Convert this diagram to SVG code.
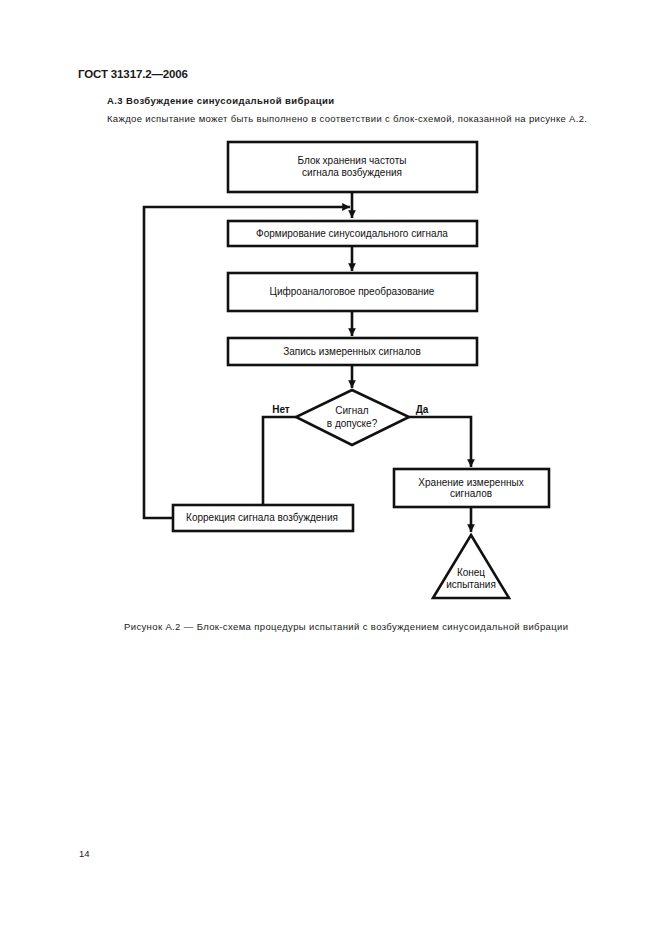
<svg xmlns="http://www.w3.org/2000/svg" width="661" height="936" viewBox="0 0 661 936">
<defs>
<style>
.t{font-family:"Liberation Sans",Arial,sans-serif;fill:#1a1a1a}
.b{fill:#fff;stroke:#111;stroke-width:2.6}
.c{fill:none;stroke:#111;stroke-width:2.6}
.n{font-family:"Liberation Sans",Arial,sans-serif;font-size:10px;fill:#111;text-anchor:middle}
</style>
<marker id="ah" viewBox="0 0 10 10" refX="10" refY="5" markerWidth="3" markerHeight="3" orient="auto" markerUnits="strokeWidth">
<path d="M0,0 L10,5 L0,10 z" fill="#111"/>
</marker>
</defs>
<rect width="661" height="936" fill="#fff"/>
<text class="t" x="78" y="78" font-size="11.5" font-weight="bold" textLength="110">ГОСТ 31317.2—2006</text>
<text class="t" x="107" y="104" font-size="9.5" font-weight="bold" textLength="227">А.3  Возбуждение синусоидальной вибрации</text>
<text class="t" x="107" y="122" font-size="9.5" textLength="480">Каждое испытание может быть выполнено в соответствии с блок-схемой, показанной на рисунке А.2.</text>

<g id="connectors">
<path class="c" d="M352,192 V218" marker-end="url(#ah)"/>
<path class="c" d="M174,518 H144 V207 H350" marker-end="url(#ah)"/>
<path class="c" d="M352,246 V271" marker-end="url(#ah)"/>
<path class="c" d="M352,311 V336" marker-end="url(#ah)"/>
<path class="c" d="M352,365 V388" marker-end="url(#ah)"/>
<path class="c" d="M296,417 H263 V505"/>
<path class="c" d="M409,417 H471 V467" marker-end="url(#ah)"/>
<path class="c" d="M471,507 V532" marker-end="url(#ah)"/>
</g>

<g id="n1"><rect class="b" x="228" y="142" width="249" height="50"/>
<text class="n" x="352" y="164">Блок хранения частоты</text>
<text class="n" x="352" y="176">сигнала возбуждения</text></g>
<g id="n2"><rect class="b" x="228" y="221" width="249" height="25"/>
<text class="n" x="352" y="237">Формирование синусоидального сигнала</text></g>
<g id="n3"><rect class="b" x="228" y="273" width="249" height="38"/>
<text class="n" x="352" y="295">Цифроаналоговое преобразование</text></g>
<g id="n4"><rect class="b" x="228" y="338" width="249" height="27"/>
<text class="n" x="352" y="355">Запись измеренных сигналов</text></g>
<g id="n5"><path class="b" d="M352,390 L409,417 L352,445 L296,417 Z"/>
<text class="n" x="352" y="414">Сигнал</text>
<text class="n" x="352" y="427">в допуске?</text></g>
<text class="n" x="281" y="413" font-weight="bold">Нет</text>
<text class="n" x="422" y="413" font-weight="bold">Да</text>
<g id="n6"><rect class="b" x="394" y="469" width="155" height="38"/>
<text class="n" x="471" y="486">Хранение измеренных</text>
<text class="n" x="471" y="497">сигналов</text></g>
<g id="n7"><rect class="b" x="173" y="505" width="180" height="26"/>
<text class="n" x="262" y="521">Коррекция сигнала возбуждения</text></g>
<g id="n8"><path class="b" d="M471,535 L509,598 L433,598 Z"/>
<text class="n" x="471" y="576">Конец</text>
<text class="n" x="471" y="588">испытания</text></g>

<text class="t" x="124" y="630" font-size="9.5" textLength="444">Рисунок А.2 —  Блок-схема процедуры испытаний с возбуждением синусоидальной вибрации</text>
<text class="t" x="79" y="857" font-size="9.5">14</text>
</svg>
